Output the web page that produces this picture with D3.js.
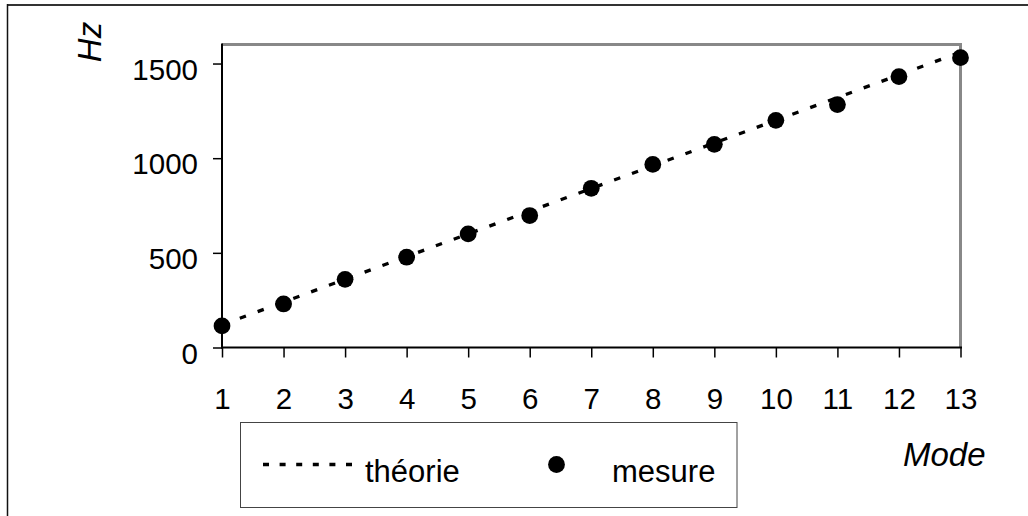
<!DOCTYPE html>
<html><head><meta charset="utf-8">
<script src="https://cdn.jsdelivr.net/npm/d3@7"></script>
<style>
html,body{margin:0;padding:0;background:#fff;}
svg{display:block;font-family:"Liberation Sans",Arial,sans-serif;}
</style></head>
<body>
<svg id="chart" width="1028" height="516"></svg>
<script>
const modes = [1,2,3,4,5,6,7,8,9,10,11,12,13];
const theorie = [120,240,360,480,600,720,840,960,1080,1200,1320,1440,1560];
const mesure = [114,230,360,477,600,697,841,967,1073,1200,1283,1431,1531];
const yTicks = [0,500,1000,1500];
const xLabel = "Mode";
const yLabel = "Hz";
const legendLabels = ["théorie","mesure"];

const svg = d3.select("#chart");
// outer frame
svg.append("line").attr("x1",7).attr("x2",1028).attr("y1",5).attr("y2",5).attr("stroke","#333").attr("stroke-width",2);
svg.append("line").attr("x1",7.5).attr("x2",7.5).attr("y1",4).attr("y2",516).attr("stroke","#111").attr("stroke-width",1.5);

const L=222, R=960.5, T=44.6, B=347.5;
const x = d3.scaleLinear().domain([1,13]).range([L,R]);
const y = d3.scaleLinear().domain([0,1600]).range([B,T]);

// plot border (top/right gray)
svg.append("path").attr("d",`M${L},${T}H${R}V${B}`).attr("fill","none").attr("stroke","#888").attr("stroke-width",3);

// axes
const yAxis = d3.axisLeft(y).tickValues(yTicks).tickSize(9).tickFormat(d3.format("d"));
const gy = svg.append("g").attr("transform",`translate(${L},0)`).call(yAxis);
gy.select(".domain").remove();
gy.selectAll(".tick line").attr("stroke","#000").attr("stroke-width",1.5);
gy.selectAll(".tick text").attr("x",-24).attr("dy",null).attr("y",15.5).attr("fill","#000").style("font-size","29.5px").style("font-family","'Liberation Sans',Arial,sans-serif");

const xAxis = d3.axisBottom(x).tickValues(modes).tickSize(10).tickFormat(d3.format("d"));
const gx = svg.append("g").attr("transform",`translate(0,${B})`).call(xAxis);
gx.select(".domain").remove();
gx.selectAll(".tick line").attr("stroke","#000").attr("stroke-width",1.5);
gx.selectAll(".tick text").attr("dy",null).attr("y",61).attr("fill","#000").style("font-size","29.5px").style("font-family","'Liberation Sans',Arial,sans-serif");

svg.append("line").attr("x1",L).attr("x2",L).attr("y1",T-1).attr("y2",B+1).attr("stroke","#000").attr("stroke-width",2);
svg.append("line").attr("x1",L-1).attr("x2",R+1.5).attr("y1",B).attr("y2",B).attr("stroke","#000").attr("stroke-width",2);

// theory line
const line = d3.line().x((d,i)=>x(modes[i])).y(d=>y(d));
svg.append("path").datum(theorie).attr("d",line).attr("fill","none").attr("stroke","#000").attr("stroke-width",3.3).attr("stroke-dasharray","6.5,12.5");

// measured points
svg.append("g").selectAll("circle").data(mesure).join("circle")
  .attr("cx",(d,i)=>x(modes[i])).attr("cy",d=>y(d)).attr("r",8.4).attr("fill","#000");

// axis titles
svg.append("text").attr("transform","translate(101,42) rotate(-90)").attr("text-anchor","middle")
  .style("font-size","33px").style("font-style","italic").text(yLabel);
svg.append("text").attr("x",903).attr("y",466).style("font-size","33px").style("font-style","italic").text(xLabel);

// legend
const lg = svg.append("g");
lg.append("rect").attr("x",240.5).attr("y",422.5).attr("width",496.5).attr("height",85).attr("fill","#fff").attr("stroke","#444").attr("stroke-width",1);
lg.append("line").attr("x1",263).attr("x2",362).attr("y1",464.5).attr("y2",464.5).attr("stroke","#000").attr("stroke-width",3.3).attr("stroke-dasharray","6,10.6");
lg.append("text").attr("x",365).attr("y",482).style("font-size","31px").text(legendLabels[0]);
lg.append("circle").attr("cx",556.5).attr("cy",464.5).attr("r",8.4).attr("fill","#000");
lg.append("text").attr("x",612).attr("y",482).style("font-size","31px").text(legendLabels[1]);
</script>
</body></html>
